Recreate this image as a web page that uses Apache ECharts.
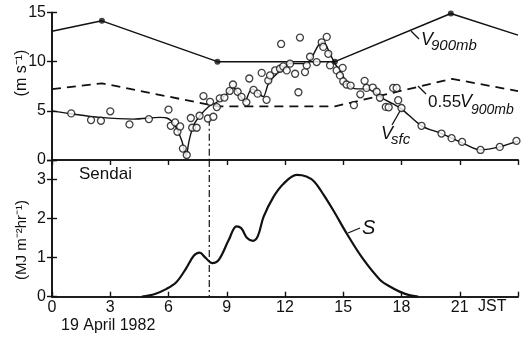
<!DOCTYPE html>
<html>
<head>
<meta charset="utf-8">
<script src="https://cdn.jsdelivr.net/npm/echarts@6/dist/echarts.min.js"></script>
<style>
  html, body { margin: 0; padding: 0; background: #fff; }
  #chart { width: 528px; height: 337px; }
</style>
</head>
<body>
<div id="chart"></div>
<script>
// hours (JST) and values
const v900Hours = [0, 2.57, 8.52, 14.57, 20.54, 24];
const v900Vals = [13.1, 14.15, 10.0, 10.0, 14.9, 12.7];
const v900DotHours = [2.57, 8.52, 14.57, 20.54];
const v900DotVals = [14.15, 10.0, 10.0, 14.9];

const halfHours = [0, 2.57, 8.52, 14.57, 20.6, 24];
const halfVals = [7.2, 7.8, 5.45, 5.45, 8.25, 7.0];

const sfcObsHours = [0.99, 2.01, 2.52, 3.0, 3.99, 4.99, 6.0, 6.12, 6.34, 6.46, 6.6, 6.74, 6.94,
  7.15, 7.22, 7.45, 7.6, 7.8, 8.03, 8.14, 8.31, 8.49, 8.64, 8.88, 9.15, 9.32, 9.56, 9.76, 10.01,
  10.16, 10.38, 10.59, 10.8, 11.05, 11.14, 11.23, 11.49, 11.74, 11.8, 11.91, 12.09, 12.26, 12.52,
  12.69, 12.77, 13.03, 13.12, 13.29, 13.63, 13.89, 13.97, 14.15, 14.23, 14.32, 14.66, 14.83,
  14.97, 15.0, 15.17, 15.38, 15.55, 15.88, 16.1, 16.2, 16.52, 16.72, 16.89, 17.19, 17.34, 17.57,
  17.75, 17.83, 18.0, 19.03, 20.06, 20.58, 21.12, 22.07, 23.06, 23.92];
const sfcObsVals = [4.74, 4.06, 3.99, 4.95, 3.62, 4.16, 5.12, 3.48, 3.82, 2.87, 3.41, 1.16, 0.51,
  4.27, 3.28, 3.28, 4.5, 6.5, 4.22, 5.92, 4.4, 5.38, 6.27, 6.35, 7.02, 7.68, 6.94, 6.42, 5.87,
  8.29, 7.13, 6.75, 8.86, 6.12, 8.09, 8.6, 9.11, 9.28, 11.8, 9.52, 9.11, 9.8, 8.77,
  6.89, 12.45, 8.94, 9.62, 10.5, 9.96, 11.97, 11.5, 12.52, 10.8, 9.62, 9.11, 8.6,
  9.37, 8.0, 7.68, 7.57, 5.58, 6.68, 8.05, 7.33, 7.37, 6.94, 6.33, 5.4, 5.36, 7.33,
  7.33, 6.08, 5.29, 3.48, 2.69, 2.22, 1.84, 1.02, 1.33, 1.94];

const sfcFitHours = [0, 0.99, 2.48, 4.2, 5.57, 5.91, 6.34, 6.69, 6.9, 7.06, 7.28, 7.62, 8.06, 8.49,
  8.66, 9.0, 9.31, 9.64, 9.94, 10.16, 10.34, 10.62, 10.88, 11.14, 11.49, 11.74, 12.26, 13.12, 13.4,
  13.72, 13.97, 14.32, 14.57, 14.83, 15.06, 15.17, 15.68, 16.12, 16.63, 17.07, 17.57, 18.0, 19.03,
  20.06, 21.1, 22.07, 23.06, 24];
const sfcFitVals = [5.0, 4.7, 4.33, 4.16, 4.33, 4.27, 3.48, 1.94, 0.4, 1.94, 3.48, 4.5, 5.42, 5.87,
  6.21, 6.72, 7.4, 6.65, 5.97, 6.89, 7.23, 6.79, 6.45, 7.75, 8.6, 9.04, 9.8, 9.8, 10.5,
  11.67, 12.0, 10.8, 9.8, 9.1, 8.26, 7.75, 7.23, 7.23, 6.89, 6.21, 5.7, 5.2, 3.48,
  2.69, 1.77, 1.02, 1.33, 1.94];

const solarHours = [4.63, 5.3, 5.9, 6.4, 6.9, 7.3, 7.6, 7.9, 8.25, 8.6, 9.1, 9.5, 9.75, 10.05,
  10.35, 10.6, 10.9, 11.4, 11.9, 12.6, 13.1, 13.5, 14.0, 14.5, 15.2, 16.0, 16.9, 17.4, 17.9,
  18.4, 18.86];
const solarVals = [0, 0.07, 0.2, 0.37, 0.72, 1.05, 1.13, 1.0, 0.86, 0.95, 1.45, 1.8, 1.75, 1.5,
  1.43, 1.55, 2.05, 2.55, 2.88, 3.12, 3.08, 2.95, 2.6, 2.2, 1.6, 0.98, 0.43, 0.26, 0.13,
  0.04, 0];

const markHour = 8.1;
const markTop = [4.2, 0];
const markBottom = [3.5, 0];

const xTicks = [0, 3, 6, 9, 12, 15, 18, 21];
const topTicks = [0, 5, 10, 15];
const bottomTicks = [0, 1, 2, 3];

const zip = (xs, ys) => xs.map((x, i) => [x, ys[i]]);

const FONT = "'Liberation Sans',Arial,sans-serif";
const INK = '#111';

function txt(x, y, text, size, italic, rot) {
  return {
    type: 'text', x: x, y: y, rotation: rot || 0,
    style: {
      text: text, fill: INK, font: (italic ? 'italic ' : '') + size + 'px ' + FONT,
      align: rot ? 'center' : 'left', verticalAlign: 'middle'
    }
  };
}
function seg(x1, y1, x2, y2) {
  return { type: 'line', shape: { x1: x1, y1: y1, x2: x2, y2: y2 }, style: { stroke: INK, lineWidth: 1.3 } };
}

const lineAxis = { lineStyle: { color: INK, width: 1.6 } };
const tickIn = { show: true, inside: true, length: 5, lineStyle: { color: INK, width: 1.4 } };
const noTick = { show: false };

function xAx(grid, pos, labels, ticks) {
  return {
    type: 'value', gridIndex: grid, position: pos, min: 0, max: 24, interval: 3,
    axisLine: lineAxis, axisTick: ticks ? tickIn : noTick, splitLine: { show: false },
    axisLabel: {
      show: labels, margin: 3, color: INK, fontSize: 16, fontFamily: FONT,
      formatter: v => (xTicks.indexOf(v) >= 0 ? String(v) : '')
    }
  };
}
function yAx(grid, pos, max, interval, ticks, labels) {
  return {
    type: 'value', gridIndex: grid, position: pos, min: 0, max: max, interval: interval,
    axisLine: { show: true, lineStyle: { color: INK, width: 1.6 } },
    axisTick: tickIn, splitLine: { show: false },
    axisLabel: {
      show: labels, margin: 6, color: INK, fontSize: 16, fontFamily: FONT,
      formatter: v => (ticks.indexOf(v) >= 0 ? String(v) : '')
    }
  };
}

const chart = echarts.init(document.getElementById('chart'));
chart.setOption({
  animation: false,
  backgroundColor: '#fff',
  grid: [
    { left: 52, right: 10, top: 12.5, height: 147.5 },
    { left: 52, right: 10, top: 160, height: 136.7 }
  ],
  xAxis: [
    xAx(0, 'bottom', false, false),
    xAx(0, 'top', false, true),
    xAx(1, 'bottom', true, true),
    xAx(1, 'top', false, false)
  ],
  yAxis: [
    yAx(0, 'left', 15, 5, topTicks, true),
    yAx(0, 'right', 15, 5, topTicks, false),
    yAx(1, 'left', 3.5, 1, bottomTicks, true),
    yAx(1, 'right', 3.5, 1, bottomTicks, false)
  ],
  series: [
    {
      type: 'line', xAxisIndex: 0, yAxisIndex: 0, data: zip(v900Hours, v900Vals),
      showSymbol: false, lineStyle: { color: INK, width: 1.5 }
    },
    {
      type: 'scatter', xAxisIndex: 0, yAxisIndex: 0, data: zip(v900DotHours, v900DotVals),
      symbolSize: 6, itemStyle: { color: INK }
    },
    {
      type: 'line', xAxisIndex: 0, yAxisIndex: 0, data: zip(halfHours, halfVals),
      showSymbol: false, lineStyle: { color: INK, width: 1.8, type: [9, 6] }
    },
    {
      type: 'line', xAxisIndex: 0, yAxisIndex: 0, data: zip(sfcFitHours, sfcFitVals),
      showSymbol: false, smooth: 0.3, lineStyle: { color: INK, width: 1.4 }
    },
    {
      type: 'scatter', xAxisIndex: 0, yAxisIndex: 0, data: zip(sfcObsHours, sfcObsVals),
      symbol: 'circle', symbolSize: 7, z: 5,
      itemStyle: { color: '#fff', borderColor: INK, borderWidth: 1.3 }
    },
    {
      type: 'line', xAxisIndex: 0, yAxisIndex: 0, data: zip([markHour, markHour], markTop),
      showSymbol: false, lineStyle: { color: INK, width: 1.2, type: [7, 3, 2, 3] }
    },
    {
      type: 'line', xAxisIndex: 2, yAxisIndex: 2, data: zip([markHour, markHour], markBottom),
      showSymbol: false, lineStyle: { color: INK, width: 1.2, type: [7, 3, 2, 3] }
    },
    {
      type: 'line', xAxisIndex: 2, yAxisIndex: 2, data: zip(solarHours, solarVals),
      showSymbol: false, smooth: 0.35, lineStyle: { color: INK, width: 2.2 }
    }
  ],
  graphic: [
    txt(22, 73, '(m s\u207B\u00B9)', 16, false, Math.PI / 2),
    txt(22, 240, '(MJ m\u207B\u00B2hr\u207B\u00B9)', 15, false, Math.PI / 2),
    txt(79, 174, 'Sendai', 17),
    txt(61, 326, '19 April 1982', 16),
    txt(478, 307, 'JST', 16),
    txt(421, 40, 'V', 18, true),
    txt(431, 46, '900mb', 15, true),
    seg(411, 31, 419, 39),
    txt(428, 102, '0.55', 17),
    txt(460, 102, 'V', 18, true),
    txt(471, 110, '900mb', 14, true),
    seg(418, 86, 426, 94),
    txt(381, 134, 'V', 18, true),
    txt(391, 140, 'sfc', 15, true),
    seg(392, 125, 400, 111),
    txt(362, 228, 'S', 20, true),
    seg(348, 233, 360, 228)
  ]
});
</script>
</body>
</html>
